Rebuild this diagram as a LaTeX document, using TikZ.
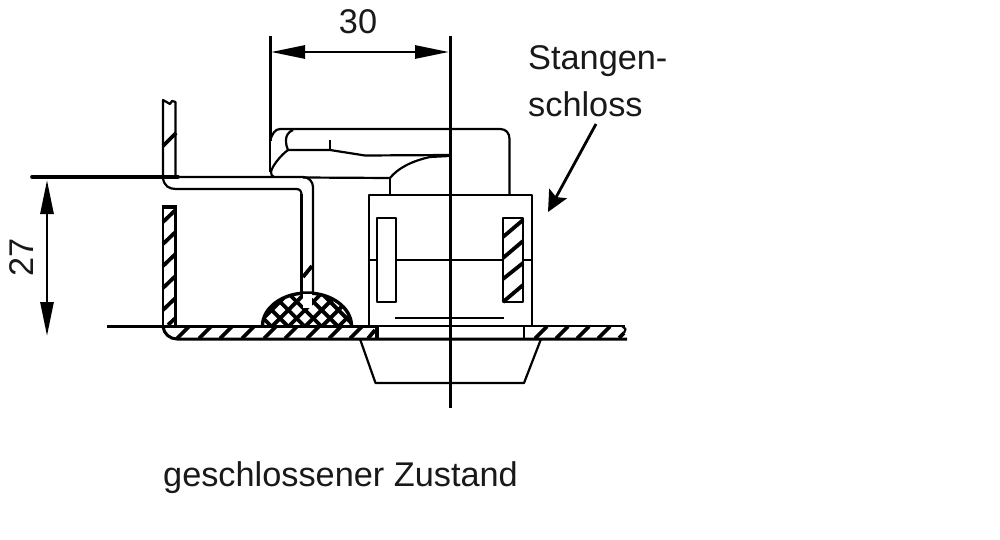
\documentclass[tikz,border=0pt]{standalone}
\usepackage{fontspec}
\setmainfont{Liberation Sans}
\usetikzlibrary{arrows.meta}
\tikzset{
  thin line/.style={line width=2.2pt,black,line join=round},
  heavy line/.style={line width=3pt,black},
  hatch/.style={line width=3.8pt,black},
  dim/.style={line width=2.8pt,black,{Triangle[length=34pt,width=13pt]}-{Triangle[length=34pt,width=13pt]}},
  pointer/.style={line width=2.8pt,black,-{Stealth[length=21pt,width=20pt,inset=4pt]}},
  label/.style={inner sep=0pt,font=\fontsize{34.3}{40}\selectfont,text=black!90},
}
\begin{document}
\begin{tikzpicture}[x=1pt,y=-1pt]
\useasboundingbox (0,0) rectangle (1000,540);
\fill[white] (0,0) rectangle (1000,540);
% mound
\begin{scope}
\clip (262.5,326) arc[start angle=180,end angle=0,x radius=44.5,y radius=-33] -- cycle;
\foreach \k in {-8,...,8}{
  \draw[line width=3.8pt] ({265+\k*16.67},350) -- ++(80,-80);
  \draw[line width=3.8pt] ({328.3+\k*16.67},350) -- ++(-80,-80);
}
\end{scope}
\draw[line width=3.4pt] (262.5,326) arc[start angle=180,end angle=0,x radius=44.5,y radius=-33];
\fill[white] (302.5,294) rectangle (312,308);
% sheet upper wall
\draw[thin line] (163,178) -- (163,100) -- (170,104) -- (172,101) -- (175.5,102) -- (175.5,177);
\draw[hatch] (163,146) -- (176,133);
% lower wall
\draw[thin line] (163,327) -- (163,207) -- (175.5,207) -- (175.5,326);
\draw[line width=3.4pt] (162,207) -- (176.5,207);
\foreach \y in {216,238,260,282,304} \draw[hatch] (163,\y+6) -- (175.5,\y-6);
\draw[hatch] (168,325) -- (175.5,318);
% bracket
\draw[thin line] (163,177) -- (303,177) arc[start angle=-90,end angle=0,radius=10] -- (313,293);
\draw[thin line] (163,178) .. controls (164,186) and (169,189) .. (176,189) -- (296,189) .. controls (300,189) and (301.5,191) .. (301.5,195);
\draw[line width=2.8pt] (301.5,194) -- (301.5,294);
\draw[hatch] (303,277) -- (312,266);
% handle
\draw[thin line] (270,141) .. controls (272,134) and (275,129) .. (280,129) -- (500,129) .. controls (506,129) and (509.5,133) .. (509.5,139) -- (509.5,195);
\draw[thin line] (293,130) .. controls (288,132) and (286,136) .. (286,140) .. controls (286,145) and (287,148) .. (288,150);
\draw[thin line] (288,150) .. controls (281,155) and (272,166) .. (271,172) .. controls (271,175) and (272,176) .. (274,177);
\draw[thin line] (288,150) -- (330,150) -- (365,155.5) -- (450,155);
\draw[thin line] (330,140) -- (330,150);
\draw[thin line] (449,156) -- (430,157) .. controls (412,161) and (398,168) .. (390,178) -- (303,177.5);
\draw[thin line] (390,178) -- (390,195);
% lock body
\draw[thin line] (369,325) -- (369,195) -- (532,195) -- (532,325);
\draw[thin line] (377,302) rectangle (396,218);
\draw[thin line] (503,302) rectangle (523,218);
\foreach \a/\b in {237/220,258/241,279/263,302/285} \draw[hatch] (503,\a) -- (523,\b);
\draw[thin line] (369,260) -- (377,260) (396,260) -- (503,260) (523,260) -- (532,260);
\draw[thin line] (395,318) -- (504,318);
% plate
\draw[line width=3.4pt] (107,326.5) -- (378,326.5);
\draw[line width=2.8pt] (378,326) -- (625,326);
\draw[line width=3pt] (163,327) .. controls (164,334) and (170,339) .. (177,339) -- (627,339);
\draw[line width=3.4pt] (377,326) -- (377,339);
\draw[line width=2.4pt] (524,326) -- (524,339);
\foreach \x in {183,205,226,248,270,291,313,335,356} \draw[hatch] (\x-6,338.5) -- (\x+6,326.5);
\draw[hatch] (368,338.5) -- (375,330);
\foreach \x in {541,562,583,604} \draw[hatch] (\x-6,338.5) -- (\x+6,326.5);
\draw[hatch] (619,338) -- (624,333);
\draw[thin line] (622,326) -- (625.5,329) -- (624,333);
\draw[thin line] (360,339) -- (375.5,383) -- (524,383) -- (541,339);
% labels
\node[label,anchor=base] (n30) at (358,34) {30};
\node[label,anchor=base,rotate=90] (n27) at (33,257) {27};
\node[label,anchor=base west] (s1) at (528,70) {Stangen-};
\node[label,anchor=base west] (s2) at (528,117) {schloss};
\node[label,anchor=base west] (cap) at (163,486) {geschlossener Zustand};
% dimension and axis lines
\coordinate (a1) at (270,36); \coordinate (a2) at (270,141);
\coordinate (b1) at (450,36); \coordinate (b2) at (450,408);
\coordinate (d1) at (271,52); \coordinate (d2) at (449,52);
\coordinate (e1) at (47,180); \coordinate (e2) at (47,336);
\coordinate (f1) at (32,177); \coordinate (f2) at (178,177);
\coordinate (g1) at (596,124); \coordinate (g2) at (548,212);
\draw[heavy line] (a1) -- (a2);
\draw[thin line] (a2) -- (270,172);
\draw[heavy line] (b1) -- (b2);
\draw[dim] (d1) -- (d2);
\draw[dim] (e1) -- (e2);
\draw[line width=3.6pt,line cap=round] (f1) -- (f2);
\draw[pointer] (g1) -- (g2);
\end{tikzpicture}
\end{document}
